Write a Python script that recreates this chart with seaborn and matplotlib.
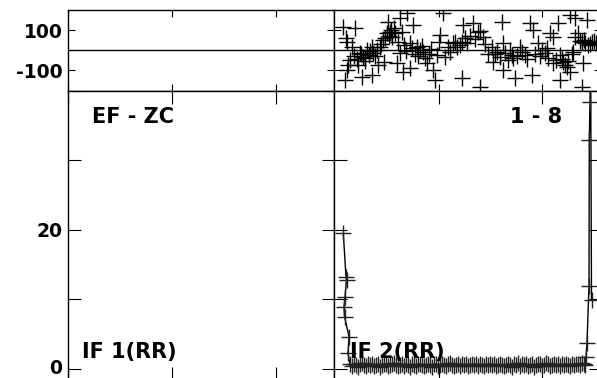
import numpy as np
import pandas as pd
import seaborn as sns
import matplotlib.pyplot as plt
import matplotlib.transforms as mtransforms

# upper strip (right panel): scattered samples, x = channel offset, y = value
strip_x = [9, 21, 12, 13, 18, 26, 16, 14, 13, 11, 28, 38, 24, 29, 33, 38, 39, 43, 46, 44,
           49, 53, 56, 54, 58, 61, 66, 73, 68, 66, 63, 69, 76, 79, 76, 83, 86, 89, 93, 99,
           101, 109, 106, 111, 114, 119, 123, 129, 139, 144, 149, 128, 133, 128, 146, 158, 163, 159, 169, 168,
           169, 176, 179, 181, 186, 191, 196, 199, 198, 204, 208, 213, 216, 219, 214, 219, 224, 226, 229, 233,
           236, 226, 241, 244, 236, 241, 253, 248, 251, 254, 239, 249, 248, 258,
           20, 23, 27, 31, 35, 36, 41, 31, 47, 51, 55, 57, 50, 60, 64, 70, 72, 78, 81, 84,
           88, 91, 95, 97, 103, 105, 116, 121, 126, 131, 136, 141, 146, 151, 154, 161, 166, 171, 174, 178,
           183, 188, 193, 201, 206, 211, 222, 228, 231, 234, 238, 246, 250, 256, 260, 262]
strip_y = [115, 110, 60, 40, 15, -15, -50, -75, -100, -150, -135, -125, -75, -35, 0, 15, -15, 0, 15, -75,
           50, 85, 90, 140, 65, 85, 160, 185, 90, -15, -65, -110, -90, 125, 35, 15, 0, -10, -65, -100,
           -150, 185, 75, -35, 15, 35, 15, 125, 135, 90, 65, 40, 35, -140, -185, 15, -10, -60, -100, 140,
           35, 0, -40, -140, 15, -25, 135, 100, -125, 35, 0, 10, 85, 65, -40, -65, 135, -25, -60, -85,
           -110, -150, 65, 85, 175, 160, 150, 40, 35, 25, -10, -65, -185, 40,
           -30, -45, -20, -40, -25, -5, -30, -55, 30, 60, 70, 100, -60, 110, 40, 25, -5, 10, -20, -30,
           20, -40, -20, 5, -25, 40, -10, 40, 25, 60, 70, 55, 95, 30, -20, -20, -35, -15, -50, -25,
           -30, -10, -45, -20, -30, -15, -50, -45, -75, -55, -20, 45, 50, 30, 45, 35]

# lower panel (right): steep start, flat floor, steep end
head_x = [9.3, 12, 12.5, 11, 10, 10.5, 15, 14]
head_y = [19.5, 13.2, 12.8, 10.3, 8.9, 7.5, 4.6, 2.2]
floor_y = [0.6, 0.4, 0.7, 0.5, 0.3, 0.6, 0.8, 0.5, 0.4, 0.6, 0.5, 0.7, 0.4, 0.5, 0.6, 0.3,
           0.5, 0.7, 0.6, 0.4, 0.5, 0.6, 0.8, 0.5, 0.4, 0.5, 0.6, 0.4, 0.7, 0.5, 0.3, 0.6,
           0.5, 0.4, 0.6, 0.7, 0.5, 0.4, 0.5, 0.6, 0.5, 0.3, 0.6, 0.7, 0.4, 0.5, 0.6, 0.5,
           0.4, 0.6, 0.8, 0.5, 0.4, 0.5, 0.6, 0.4, 0.7, 0.5, 0.6, 0.4, 0.5, 0.6, 0.5, 0.7,
           0.4, 0.6, 0.5, 0.4, 0.6, 0.5, 0.7, 0.5, 0.6, 0.4, 0.5, 0.6, 0.5, 0.4, 0.5, 0.7,
           0.5, 0.3, 0.6, 0.5, 0.8, 0.4, 0.6, 0.5, 0.7, 0.4, 0.5, 0.6, 0.3, 0.5, 0.7, 0.6,
           0.4, 0.5, 0.8, 0.6, 0.4, 0.5, 0.7, 0.5, 0.6, 0.4, 0.6, 0.5, 0.7, 0.5, 0.4, 0.6,
           0.5, 0.7, 0.6, 0.5, 0.8, 0.6]
tail_x = [251, 252, 253, 255, 255.3, 256, 256.6, 257.5]
tail_y = [0.5, 1.7, 3.7, 11.9, 33, 38.4, 46, 9.9]

floor_x = list(np.arange(len(floor_y)) * 2 + 16)
curve = pd.DataFrame({"x": head_x + floor_x + tail_x,
                      "y": head_y + floor_y + tail_y})
strip = pd.DataFrame({"x": strip_x, "y": strip_y})

sns.set_theme(style="white")
plt.rcParams["font.family"] = ["DejaVu Sans"]
plt.rcParams["font.weight"] = "bold"
plt.rcParams["text.color"] = "black"
plt.rcParams["xtick.color"] = "black"
plt.rcParams["ytick.color"] = "black"

W, H = 597, 378
fig = plt.figure(figsize=(W / 100, H / 100), dpi=100)

def box(x0, y0, x1, y1):
    return [x0 / W, 1 - y1 / H, (x1 - x0) / W, (y1 - y0) / H]

ax_tl = fig.add_axes(box(68, 10, 334, 91))
ax_tr = fig.add_axes(box(334, 10, 601, 91))
ax_bl = fig.add_axes(box(68, 91, 334, 379))
ax_br = fig.add_axes(box(334, 91, 601, 379))

sns.scatterplot(data=strip, x="x", y="y", marker="+", s=120, color="black",
                linewidth=1.0, ax=ax_tr, legend=False)
sns.lineplot(data=curve, x="x", y="y", sort=False, estimator=None, color="black",
             linewidth=1.0, marker="+", markersize=11, markeredgewidth=1.0,
             markeredgecolor="#222222", ax=ax_br, legend=False)

for ax in (ax_tl, ax_tr):
    ax.set_ylim(-205, 200)
    ax.set_yticks([-100, 100])
    ax.axhline(0, color="black", lw=1.0)
    ax.tick_params(direction="in", length=5, width=0.8, color="black")
for ax in (ax_bl, ax_br):
    ax.set_ylim(-1.5, 40)
    ax.set_yticks([0, 10, 20, 30, 40])
    ax.tick_params(direction="in", length=9, width=0.8, color="black")

ax_tl.set_xlim(0, 266)
ax_bl.set_xlim(0, 266)
ax_tr.set_xlim(0, 267)
ax_br.set_xlim(0, 267)
for ax in (ax_tl, ax_bl):
    ax.set_xticks([0, 104, 208])
for ax in (ax_tr, ax_br):
    ax.set_xticks([104.7, 208])

for ax in (ax_tl, ax_tr, ax_bl, ax_br):
    ax.set_xlabel("")
    ax.set_ylabel("")
    ax.set_facecolor("white")
    ax.tick_params(top=True, bottom=True, left=True, right=True,
                   labelbottom=False, labelleft=False)
    for sp in ax.spines.values():
        sp.set_visible(True)
        sp.set_color("black")
        sp.set_linewidth(1.0)

ax_tl.tick_params(labelleft=True, labelsize=13.5, pad=4, labelcolor="black")
ax_tl.set_yticklabels(["-100", "100"], fontweight="bold")
ax_bl.tick_params(labelleft=True, labelsize=13.5, pad=4, labelcolor="black")
ax_bl.set_yticklabels(["0", "", "20", "", ""], fontweight="bold")

# nudge the "0" label up a little so it stays on the canvas
lift = mtransforms.ScaledTranslation(0, 2.5 / 100, fig.dpi_scale_trans)
zero_lbl = ax_bl.get_yticklabels()[0]
zero_lbl.set_transform(zero_lbl.get_transform() + lift)

ax_bl.text(24 / 266, 0.89, "EF - ZC", transform=ax_bl.transAxes, fontsize=15,
           fontweight="bold", color="black", ha="left", va="baseline")
ax_br.text(228 / 267, 0.89, "1 - 8", transform=ax_br.transAxes, fontsize=15,
           fontweight="bold", color="black", ha="right", va="baseline")
ax_bl.text(14 / 266, 0.073, "IF 1(RR)", transform=ax_bl.transAxes, fontsize=15,
           fontweight="bold", color="black", ha="left", va="baseline")
ax_br.text(16 / 267, 0.073, "IF 2(RR)", transform=ax_br.transAxes, fontsize=15,
           fontweight="bold", color="black", ha="left", va="baseline")

fig.savefig("out.png", dpi=100)
